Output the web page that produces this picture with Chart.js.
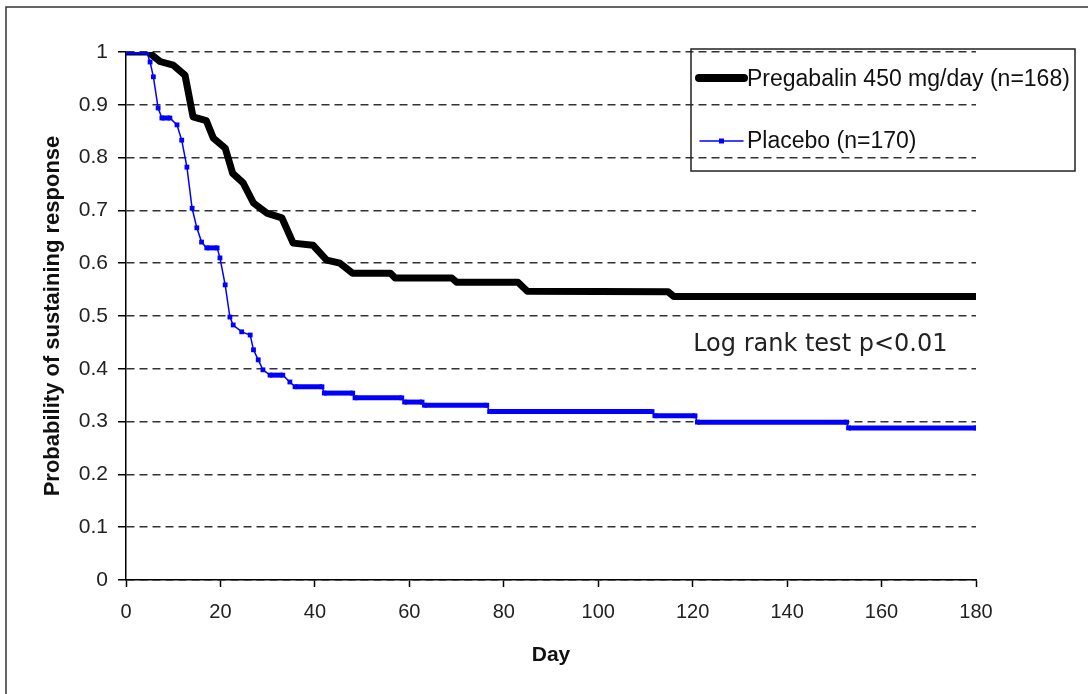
<!DOCTYPE html>
<html>
<head>
<meta charset="utf-8">
<title>Probability of sustaining response</title>
<script src="https://cdn.jsdelivr.net/npm/chart.js@4/dist/chart.umd.min.js"></script>
<style>
  html, body { margin: 0; padding: 0; background: #fff; }
  canvas { display: block; }
</style>
</head>
<body>
<canvas id="km" width="1088" height="694"></canvas>
<script>
// values (day, probability)
const pregabalinDays = [0, 4.7, 7.2, 10, 12.5, 14.2, 17, 18.5, 21, 22.6, 24.8, 27, 29.8, 33, 35.4, 39.6, 42.5, 45.3, 48, 56, 57, 69, 70, 83, 85, 114.8, 116, 180];
const pregabalinProb = [1, 1, 0.982, 0.975, 0.956, 0.877, 0.87, 0.837, 0.818, 0.77, 0.752, 0.714, 0.695, 0.686, 0.638, 0.634, 0.606, 0.6, 0.581, 0.581, 0.572, 0.572, 0.564, 0.564, 0.547, 0.546, 0.537, 0.537];

const placeboDays = [0, 4.4, 5.1, 5.8, 6.8, 7.6, 9.3, 10.8, 11.8, 12.9, 14, 15, 16, 17.1, 19.3, 19.9, 21, 22, 22.7, 24.5, 26.3, 27, 28, 29, 30.5, 33.2, 34.7, 35.8, 41.5, 42, 48, 48.5, 58.4, 59, 62.7, 63.2, 76.4, 77, 111.4, 112, 120.5, 121, 152.6, 153, 180];
const placeboProb = [1, 1, 0.981, 0.953, 0.894, 0.875, 0.875, 0.862, 0.833, 0.782, 0.704, 0.667, 0.64, 0.629, 0.629, 0.61, 0.559, 0.498, 0.483, 0.47, 0.464, 0.436, 0.417, 0.398, 0.388, 0.388, 0.375, 0.366, 0.366, 0.354, 0.354, 0.345, 0.345, 0.337, 0.337, 0.331, 0.331, 0.319, 0.319, 0.311, 0.311, 0.299, 0.299, 0.288, 0.288];

const seriesNames = ['Pregabalin 450 mg/day (n=168)', 'Placebo (n=170)'];
const xTitle = 'Day';
const yTitle = 'Probability of sustaining response';
const note = 'Log rank test p<0.01';

const toPoints = (xs, ys) => xs.map((x, i) => ({ x: x, y: ys[i] }));
const FONT = '"Liberation Sans", Arial, sans-serif';

// outer frame, legend box and the log rank note
const extras = {
  id: 'extras',
  beforeDraw(chart) {
    const c = chart.ctx;
    c.save();
    c.fillStyle = '#fff';
    c.fillRect(0, 0, chart.width, chart.height);
    c.strokeStyle = '#333';
    c.lineWidth = 1.5;
    c.beginPath();
    c.moveTo(6, chart.height);
    c.lineTo(6, 7);
    c.lineTo(chart.width, 7);
    c.stroke();
    c.restore();
  },
  afterDraw(chart) {
    const c = chart.ctx;
    const x = chart.scales.x, y = chart.scales.y;
    c.save();
    // note
    c.fillStyle = '#222';
    c.font = '24px "DejaVu Sans", Verdana, sans-serif';
    c.textBaseline = 'alphabetic';
    c.textAlign = 'left';
    c.fillText(note, x.getPixelForValue(120.1), y.getPixelForValue(0.434));

    // legend
    c.strokeStyle = '#222';
    c.lineWidth = 1.5;
    c.strokeRect(691, 49, 384, 122);
    c.lineCap = 'round';
    c.strokeStyle = '#000';
    c.lineWidth = 8;
    c.beginPath();
    c.moveTo(699, 78);
    c.lineTo(744, 78);
    c.stroke();
    c.strokeStyle = '#0000ff';
    c.lineWidth = 1.5;
    c.beginPath();
    c.moveTo(700, 141);
    c.lineTo(743, 141);
    c.stroke();
    c.fillStyle = '#0000ff';
    c.fillRect(719, 138.5, 5, 5);
    c.fillStyle = '#111';
    c.font = '23px ' + FONT;
    c.textBaseline = 'middle';
    c.fillText(seriesNames[0], 747, 80);
    c.fillText(seriesNames[1], 747, 142);
    c.restore();
  }
};

new Chart(document.getElementById('km'), {
  type: 'line',
  data: {
    datasets: [
      {
        label: seriesNames[1],
        data: toPoints(placeboDays, placeboProb),
        order: 0,
        borderColor: '#0000ff',
        backgroundColor: '#0000ff',
        borderWidth: 1.5,
        pointStyle: 'rect',
        pointRadius: 3.4,
        pointBorderWidth: 0,
        pointBackgroundColor: '#0000ff',
        tension: 0,
        segment: {
          borderWidth: ctx => ctx.p0.parsed.y === ctx.p1.parsed.y ? 5 : 1.5
        }
      },
      {
        label: seriesNames[0],
        data: toPoints(pregabalinDays, pregabalinProb),
        order: 1,
        borderColor: '#000',
        backgroundColor: '#000',
        borderWidth: 7,
        borderJoinStyle: 'round',
        borderCapStyle: 'round',
        pointRadius: 0,
        tension: 0
      }
    ]
  },
  options: {
    responsive: false,
    animation: false,
    layout: { padding: { left: 0, top: 52, right: 112, bottom: 0 } },
    plugins: {
      legend: { display: false },
      tooltip: { enabled: false }
    },
    scales: {
      x: {
        type: 'linear',
        min: 0,
        max: 180,
        afterFit: s => { s.height = 114; },
        ticks: {
          stepSize: 20,
          color: '#222',
          padding: 13,
          font: { family: FONT, size: 20 },
          maxRotation: 0
        },
        grid: {
          drawOnChartArea: false,
          drawTicks: true,
          tickLength: 7,
          tickColor: '#000',
          tickWidth: 1.5
        },
        border: { color: '#000', width: 1.5 },
        title: {
          display: true,
          text: xTitle,
          color: '#111',
          font: { family: FONT, size: 21, weight: 'bold' },
          padding: { top: 0, bottom: 26 }
        }
      },
      y: {
        min: 0,
        max: 1,
        afterFit: s => { s.width = 126; },
        ticks: {
          stepSize: 0.1,
          color: '#222',
          padding: 10,
          font: { family: FONT, size: 21 },
          callback: v => String(Number(v.toFixed(1)))
        },
        grid: {
          color: '#333',
          lineWidth: 1.5,
          tickBorderDash: [],
          tickColor: '#000',
          tickLength: 8,
          tickWidth: 1.5
        },
        border: { color: '#000', width: 1.5, dash: [8, 5] },
        title: {
          display: true,
          text: yTitle,
          color: '#111',
          font: { family: FONT, size: 22, weight: 'bold' },
          padding: { top: 40, bottom: 0 }
        }
      }
    }
  },
  plugins: [extras]
});
</script>
</body>
</html>
